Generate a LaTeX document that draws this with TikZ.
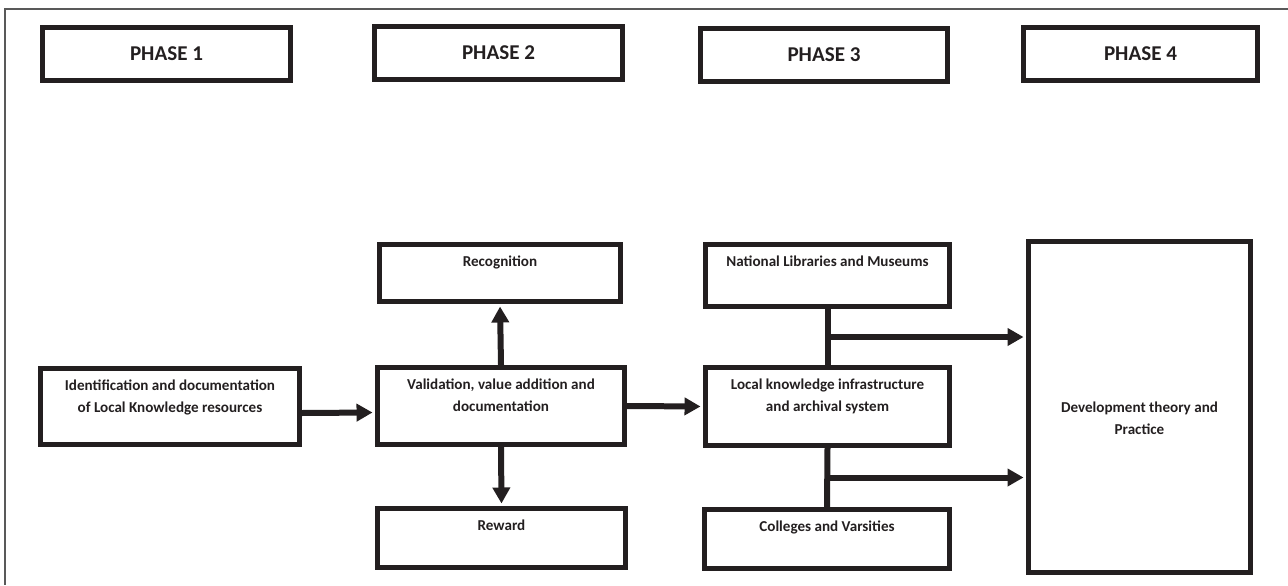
\documentclass[tikz,border=0pt]{standalone}
\usepackage{fontspec}
\setmainfont{Carlito}
\usetikzlibrary{arrows.meta, calc}
\definecolor{ink}{RGB}{35,31,32}

\begin{document}
\begin{tikzpicture}[
    x=0.02cm, y=-0.02cm,
    phase/.style={draw=ink, line width=0.1cm, minimum width=4.96cm, minimum height=1.06cm, font=\fontsize{12}{14}\selectfont\bfseries, text=ink},
    stage/.style={draw=ink, line width=0.1cm, inner sep=0pt},
    tag/.style={font=\fontsize{8.6}{12.5}\selectfont\bfseries, align=center, inner sep=0pt, text=ink, anchor=north},
    toptag/.style={tag, yshift=-0.28cm},
    arrow/.style={-{Triangle[length=0.32cm, width=0.34cm]}, line width=0.12cm, draw=ink, shorten >=0.05cm},
    link/.style={line width=0.12cm, draw=ink}
]
    \useasboundingbox (0,0) rectangle (1288,585);

    % Frame
    \draw[black!65, line width=0.03cm] (1288,9) -- (5,9) -- (5,585);

    % Phases
    \node[phase] (phase1) at (166.5,54) {PHASE 1};
    \node[phase] (phase2) at (498.5,53) {PHASE 2};
    \node[phase] (phase3) at (824,55) {PHASE 3};
    \node[phase, minimum width=4.68cm] (phase4) at (1140.5,54) {PHASE 4};

    % Components
    \node[stage, minimum width=5.18cm, minimum height=1.52cm, label={[toptag]north:{Identification and documentation\\of Local Knowledge resources}}] (ident) at (170,406.5) {};
    \node[stage, minimum width=4.94cm, minimum height=1.54cm, label={[toptag]north:{Validation, value addition and\\documentation}}] (valid) at (501,406) {};
    \node[stage, minimum width=4.82cm, minimum height=1.14cm, label={[toptag]north:{Recognition}}] (recog) at (500,273) {};
    \node[stage, minimum width=4.96cm, minimum height=1.18cm, label={[toptag]north:{Reward}}] (reward) at (501.5,538) {};
    \node[stage, minimum width=4.88cm, minimum height=1.56cm, label={[toptag]north:{Local knowledge infrastructure\\and archival system}}] (local) at (827.5,406.5) {};
    \node[stage, minimum width=4.88cm, minimum height=1.24cm, label={[toptag]north:{National Libraries and Museums}}] (natl) at (827.5,275.5) {};
    \node[stage, minimum width=4.90cm, minimum height=1.18cm, label={[toptag]north:{Colleges and Varsities}}] (coll) at (827,539) {};
    \node[stage, minimum width=4.44cm, minimum height=6.62cm, label={[tag, yshift=-0.22cm]center:{Development theory and\\Practice}}] (dev) at (1139.5,407) {};

    % Connections
    \draw[arrow] ([yshift=-0.13cm]ident.east) -- ([yshift=-0.13cm]valid.west);
    \draw[arrow] (valid.north) -- (recog.south);
    \draw[arrow] (valid.south) -- (reward.north);
    \draw[arrow] (valid.east) -- (local.west);

    % Outputs to phase 4
    \draw[link] (natl.south) -- (local.north);
    \draw[link] (local.south) -- (coll.north);
    \coordinate (upper) at ($(natl.south)!0.5!(local.north)$);
    \coordinate (lower) at ($(local.south)!0.5!(coll.north)$);
    \draw[arrow] (upper) -- (upper -| dev.west);
    \draw[arrow] (lower) -- (lower -| dev.west);

\end{tikzpicture}
\end{document}
